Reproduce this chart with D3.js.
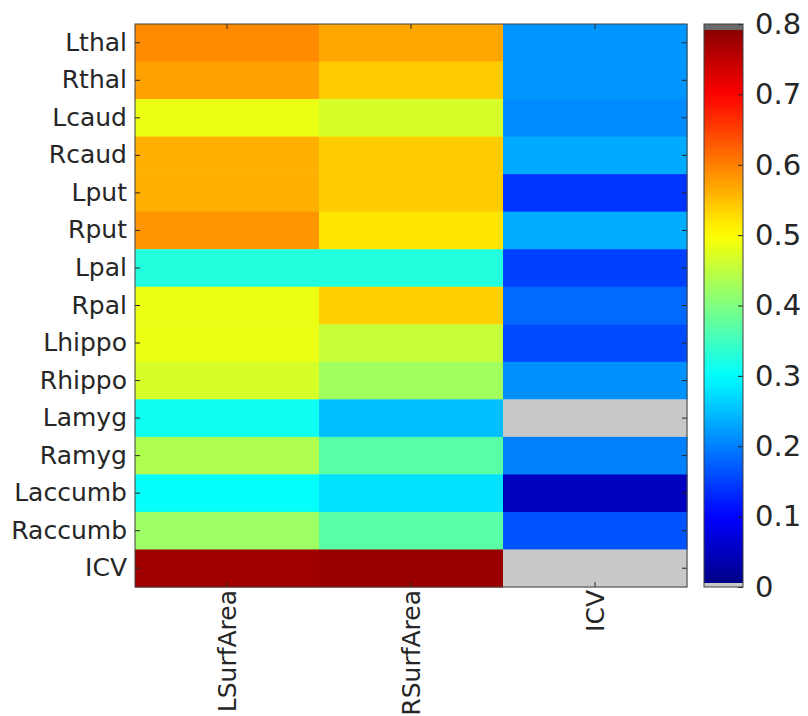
<!DOCTYPE html>
<html><head><meta charset="utf-8">
<script src="https://cdn.jsdelivr.net/npm/d3@7"></script>
<style>body{margin:0;background:#fff;} text{font-family:"DejaVu Sans",sans-serif;fill:#262626;}</style>
</head><body><svg id="c" width="808" height="716"></svg>
<script>
const rows = ["Lthal","Rthal","Lcaud","Rcaud","Lput","Rput","Lpal","Rpal","Lhippo","Rhippo","Lamyg","Ramyg","Laccumb","Raccumb","ICV"];
const cols = ["LSurfArea","RSurfArea","ICV"];
const lsurfValues = [0.590,0.574,0.484,0.562,0.562,0.582,0.326,0.484,0.484,0.468,0.310,0.438,0.304,0.422,0.774];
const rsurfValues = [0.570,0.540,0.468,0.540,0.540,0.520,0.326,0.536,0.456,0.426,0.250,0.370,0.276,0.370,0.780];
const icvValues   = [0.218,0.218,0.210,0.234,0.140,0.236,0.150,0.182,0.158,0.214,null,0.202,0.049,0.166,null];
const colorTicks = [0,0.1,0.2,0.3,0.4,0.5,0.6,0.7,0.8];
const colorDomain = [0,0.8];

function jet(t){
  const c = v => Math.max(0, Math.min(1, v));
  const r = c(1.5 - Math.abs(4*t - 3)), g = c(1.5 - Math.abs(4*t - 2)), b = c(1.5 - Math.abs(4*t - 1));
  return d3.rgb(r*255, g*255, b*255).toString();
}
const svg = d3.select("#c");
const L = 135, R = 687, T = 24, B = 587;
const x = d3.scaleBand().domain(cols).range([L, R]);
const y = d3.scaleBand().domain(rows).range([T, B]);
const cnorm = d3.scaleLinear().domain(colorDomain).range([0,1]).clamp(true);
const nanColor = "#c8c8c8";

const series = [lsurfValues, rsurfValues, icvValues];
const cells = [];
rows.forEach((r,i)=>cols.forEach((c,j)=>cells.push({r, c, v: series[j][i]})));
svg.append("g").selectAll("rect").data(cells).join("rect")
  .attr("x", d=>x(d.c)).attr("y", d=>y(d.r))
  .attr("width", x.bandwidth()+0.5).attr("height", y.bandwidth()+0.5)
  .attr("fill", d=> d.v==null ? nanColor : jet(cnorm(d.v)));

const tickCol = "#262626";
function style(g){ g.select(".domain").remove(); g.selectAll("line").attr("stroke", tickCol); }
svg.append("g").attr("transform",`translate(${L},0)`)
  .call(d3.axisLeft(y).tickSizeInner(-5).tickSizeOuter(0).tickPadding(8))
  .call(style).call(g=>g.selectAll("text").attr("font-size",25).attr("font-family","DejaVu Sans").attr("fill","#262626"));
svg.append("g").attr("transform",`translate(${R},0)`)
  .call(d3.axisRight(y).tickSizeInner(-5).tickSizeOuter(0).tickFormat(""))
  .call(style);
svg.append("g").attr("transform",`translate(0,${T})`)
  .call(d3.axisTop(x).tickSizeInner(-5).tickSizeOuter(0).tickFormat(""))
  .call(style);
svg.append("g").attr("transform",`translate(0,${B})`)
  .call(d3.axisBottom(x).tickSizeInner(-5).tickSizeOuter(0))
  .call(style)
  .call(g=>g.selectAll("text").attr("font-size",25).attr("font-family","DejaVu Sans").attr("fill","#262626")
     .attr("transform","rotate(-90)").attr("text-anchor","end").attr("x",-3).attr("y",0).attr("dy","0.35em"));
svg.append("rect").attr("x",L).attr("y",T).attr("width",R-L).attr("height",B-T)
  .attr("fill","none").attr("stroke","#404040").attr("stroke-width",1);

// colorbar
const cbL = 704, cbR = 743;
const cy = d3.scaleLinear().domain(colorDomain).range([B, T]);
const defs = svg.append("defs");
const grad = defs.append("linearGradient").attr("id","jetg").attr("x1",0).attr("y1",1).attr("x2",0).attr("y2",0);
d3.range(0,1.0001,0.02).forEach(t=>grad.append("stop").attr("offset",t).attr("stop-color",jet(t)));
svg.append("rect").attr("x",cbL).attr("y",cy(colorDomain[1])).attr("width",cbR-cbL).attr("height",cy(colorDomain[0])-cy(colorDomain[1]))
  .attr("fill","url(#jetg)");
svg.append("rect").attr("x",cbL).attr("y",T).attr("width",cbR-cbL).attr("height",6).attr("fill","#6a6a6a");
svg.append("rect").attr("x",cbL).attr("y",B-4).attr("width",cbR-cbL).attr("height",4).attr("fill","#c8c8c8");
svg.append("g").attr("transform",`translate(${cbR},0)`)
  .call(d3.axisRight(cy).tickValues(colorTicks).tickFormat(d3.format(".1~f")).tickSizeInner(-5).tickSizeOuter(0).tickPadding(12))
  .call(style)
  .call(g=>g.selectAll("text").attr("font-size",29).attr("font-family","DejaVu Sans").attr("fill","#262626"));
svg.append("rect").attr("x",cbL).attr("y",T).attr("width",cbR-cbL).attr("height",B-T)
  .attr("fill","none").attr("stroke","#404040").attr("stroke-width",1);
</script></body></html>
